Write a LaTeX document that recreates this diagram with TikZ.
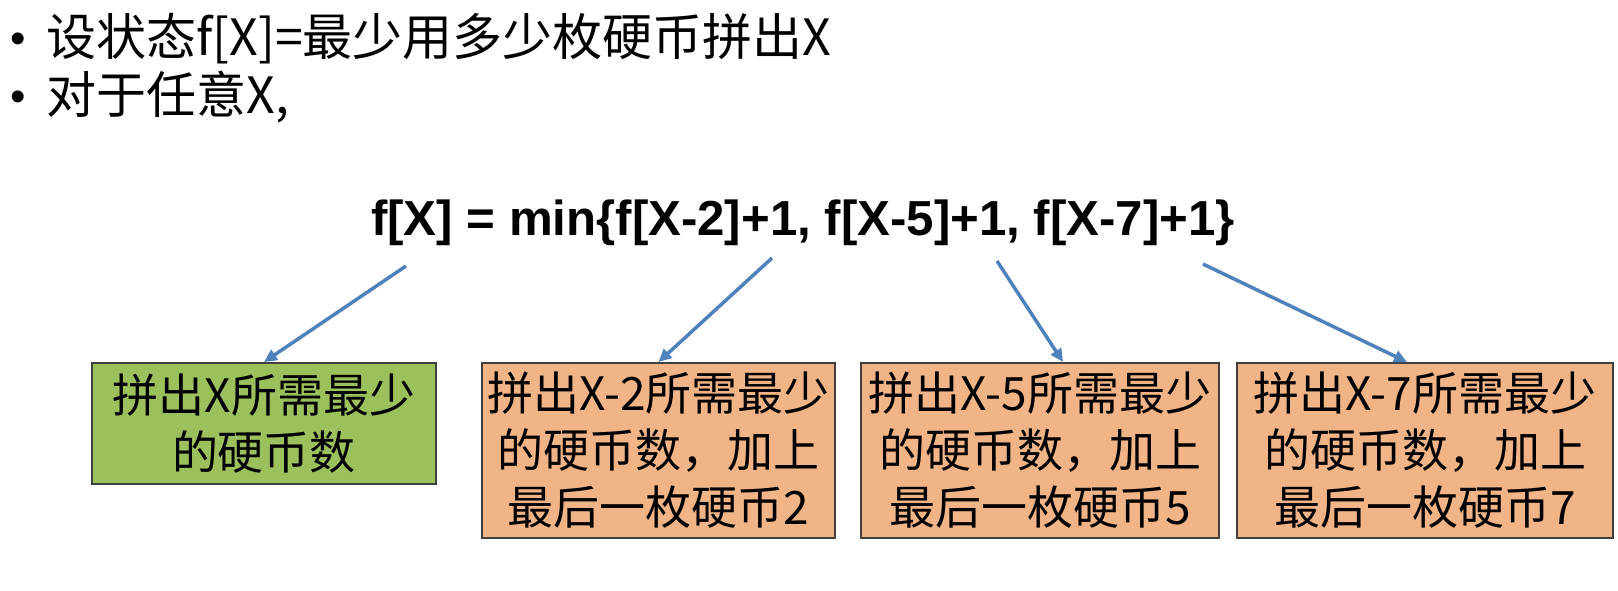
\documentclass[tikz,border=0pt]{standalone}
\usepackage{fontspec}
\setmainfont{Liberation Sans}
\newfontfamily\cjk{Noto Sans CJK SC}
\usetikzlibrary{arrows.meta}

\definecolor{boxgreen}{RGB}{155,192,92}
\definecolor{boxorange}{RGB}{240,180,134}
\definecolor{arrowblue}{RGB}{79,129,189}
\definecolor{boxline}{RGB}{64,64,64}

\begin{document}
\begin{tikzpicture}[x=0.5pt,y=-0.5pt,
    box/.style={draw=boxline,line width=1pt,inner sep=0pt,align=center,font=\cjk\fontsize{23}{28.5}\selectfont},
    link/.style={draw=arrowblue,line width=1.75pt,-{Triangle[length=6.5pt,width=6pt]}},
    bulletline/.style={font=\cjk\fontsize{25}{29}\selectfont,anchor=base west,inner sep=0pt},
    dot/.style={font=\fontsize{22}{29}\selectfont,anchor=base west,inner sep=0pt}]
  \useasboundingbox (0,0) rectangle (1618,590);
  % bullet lines
  \node[dot] (dot1) at (10,53) {\textbullet};
  \node[bulletline] (line1) at (46,55) {设状态f[X]=最少用多少枚硬币拼出X};
  \node[dot] (dot2) at (10,111) {\textbullet};
  \node[bulletline] (line2) at (46,113) {对于任意X,};
  % recurrence
  \node[font=\bfseries\fontsize{24.6}{28}\selectfont,inner sep=0pt] (rule) at (803,223) {f[X] = min\{f[X-2]+1, f[X-5]+1, f[X-7]+1\}};
  % boxes
  \node[box,fill=boxgreen,minimum width=172pt,minimum height=60.5pt] (b1) at (264,423.5) {拼出X所需最少\\的硬币数};
  \node[box,fill=boxorange,minimum width=176.5pt,minimum height=87.5pt] (b2) at (658.5,450.5) {拼出X-2所需最少\\的硬币数，加上\\最后一枚硬币2};
  \node[box,fill=boxorange,minimum width=179pt,minimum height=87.5pt] (b3) at (1040,450.5) {拼出X-5所需最少\\的硬币数，加上\\最后一枚硬币5};
  \node[box,fill=boxorange,minimum width=188pt,minimum height=87.5pt] (b4) at (1425,450.5) {拼出X-7所需最少\\的硬币数，加上\\最后一枚硬币7};
  % arrows
  \coordinate (s1) at (406,266);
  \coordinate (s2) at (772,258);
  \coordinate (s3) at (997,261);
  \coordinate (s4) at (1203,264);
  \draw[link] (s1)--(b1.north);
  \draw[link] (s2)--(b2.north);
  \draw[link] (s3)--([xshift=11.5pt]b3.north);
  \draw[link] (s4)--([xshift=-9pt]b4.north);
\end{tikzpicture}
\end{document}
